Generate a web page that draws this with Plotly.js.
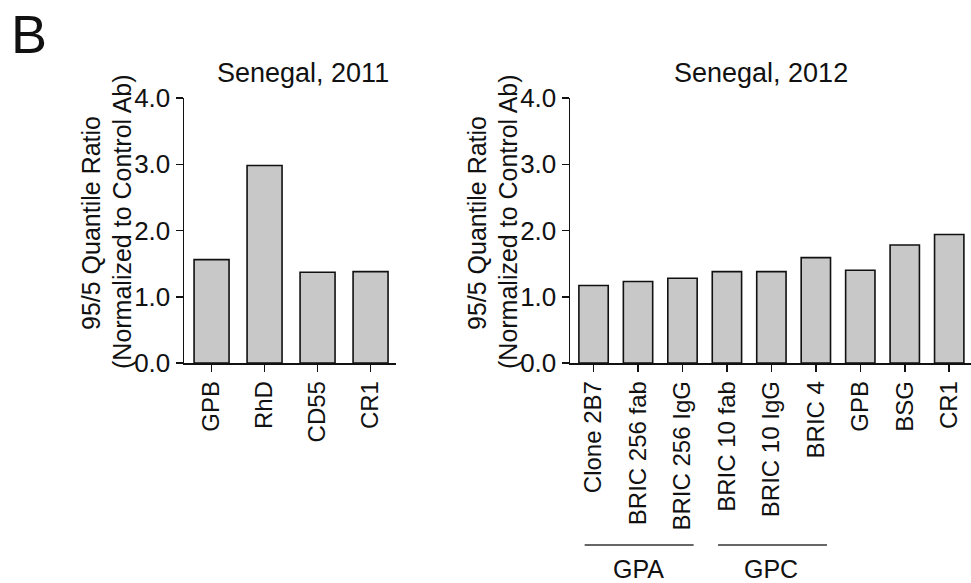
<!DOCTYPE html>
<html><head><meta charset="utf-8">
<script src="https://cdn.plot.ly/plotly-3.0.1.min.js"></script>
<style>body{margin:0;background:#fff}#chart{width:971px;height:583px}</style>
</head><body><div id="chart"></div>
<script>
const cats2011 = ['GPB', 'RhD', 'CD55', 'CR1'];
const vals2011 = [1.56, 2.98, 1.37, 1.38];
const cats2012 = ['Clone 2B7', 'BRIC 256 fab', 'BRIC 256 IgG', 'BRIC 10 fab', 'BRIC 10 IgG', 'BRIC 4', 'GPB', 'BSG', 'CR1'];
const vals2012 = [1.17, 1.23, 1.28, 1.38, 1.38, 1.59, 1.40, 1.78, 1.94];
const groupLabels = ['GPA', 'GPC'];
const groupStart = [0, 3];
const groupEnd = [2, 5];
const yTicks = [0, 1, 2, 3, 4];
const yTickText = ['0.0', '1.0', '2.0', '3.0', '4.0'];
const title2011 = 'Senegal, 2011';
const title2012 = 'Senegal, 2012';
const yTitle1 = '95/5 Quantile Ratio';
const yTitle2 = '(Normalized to Control Ab)';

const FONT = 'Liberation Sans, Arial, Helvetica, sans-serif';
const W = 971, H = 583, T = 98, B = 220;
const PH = H - T - B;
const px = x => x / W;
const py = y => (H - B - y) / PH;

const barStyle = {color: '#c8c8c8', line: {color: '#111', width: 1.6}};
const traces = [
  {type: 'bar', x: cats2011, y: vals2011, xaxis: 'x', yaxis: 'y', marker: barStyle, width: 0.66, hoverinfo: 'x+y'},
  {type: 'bar', x: cats2012, y: vals2012, xaxis: 'x2', yaxis: 'y2', marker: barStyle, width: 0.66, hoverinfo: 'x+y'}
];

const yax = (anchor) => ({
  anchor: anchor, domain: [0, 1], range: [0, 4], tickvals: yTicks, ticktext: yTickText,
  showgrid: false, zeroline: false, showline: true, linecolor: '#111', linewidth: 1.5,
  ticks: 'outside', ticklen: 7, tickwidth: 1.5, tickcolor: '#111',
  tickfont: {family: FONT, size: 26, color: '#111'}, fixedrange: true
});
const xax = (anchor, domain, range) => ({
  anchor: anchor, domain: domain, range: range, type: 'category',
  showgrid: false, zeroline: false, showline: true, linecolor: '#111', linewidth: 1.5,
  ticks: 'outside', ticklen: 7, tickwidth: 1.5, tickcolor: '#111', tickangle: -90,
  tickfont: {family: FONT, size: 24, color: '#111'}, fixedrange: true
});

const annotations = [
  {text: 'B', xref: 'paper', yref: 'paper', x: px(9), y: py(2), xanchor: 'left', yanchor: 'top', showarrow: false, font: {family: FONT, size: 54, color: '#111'}},
  {text: title2011, xref: 'paper', yref: 'paper', x: px(303), y: py(73), xanchor: 'center', yanchor: 'middle', showarrow: false, font: {family: FONT, size: 27, color: '#111'}},
  {text: title2012, xref: 'paper', yref: 'paper', x: px(761), y: py(73), xanchor: 'center', yanchor: 'middle', showarrow: false, font: {family: FONT, size: 27, color: '#111'}},
  {text: yTitle1, xref: 'paper', yref: 'paper', x: px(91), y: py(223), textangle: -90, xanchor: 'center', yanchor: 'middle', showarrow: false, font: {family: FONT, size: 25, color: '#111'}},
  {text: yTitle2, xref: 'paper', yref: 'paper', x: px(122), y: py(221), textangle: -90, xanchor: 'center', yanchor: 'middle', showarrow: false, font: {family: FONT, size: 25, color: '#111'}},
  {text: yTitle1, xref: 'paper', yref: 'paper', x: px(477), y: py(223), textangle: -90, xanchor: 'center', yanchor: 'middle', showarrow: false, font: {family: FONT, size: 25, color: '#111'}},
  {text: yTitle2, xref: 'paper', yref: 'paper', x: px(508), y: py(221), textangle: -90, xanchor: 'center', yanchor: 'middle', showarrow: false, font: {family: FONT, size: 25, color: '#111'}}
];
const shapes = [];
groupLabels.forEach((g, i) => {
  shapes.push({type: 'line', xref: 'x2', yref: 'paper', x0: groupStart[i] - 0.2, x1: groupEnd[i] + 0.25, y0: py(545), y1: py(545), line: {color: '#333', width: 1.5}});
  annotations.push({text: g, xref: 'x2', yref: 'paper', x: (groupStart[i] + groupEnd[i]) / 2, y: py(569), xanchor: 'center', yanchor: 'middle', showarrow: false, font: {family: FONT, size: 25, color: '#111'}});
});

const layout = {
  width: W, height: H, margin: {l: 0, r: 0, t: T, b: B},
  paper_bgcolor: '#fff', plot_bgcolor: '#fff', showlegend: false, bargap: 0.34,
  xaxis: xax('y', [px(184), px(396)], [-0.52, 3.48]),
  yaxis: yax('x'),
  xaxis2: xax('y2', [px(570), 1], [-0.53, 8.49]),
  yaxis2: yax('x2'),
  annotations: annotations, shapes: shapes
};
Plotly.newPlot('chart', traces, layout, {displayModeBar: false, staticPlot: true});
</script></body></html>
